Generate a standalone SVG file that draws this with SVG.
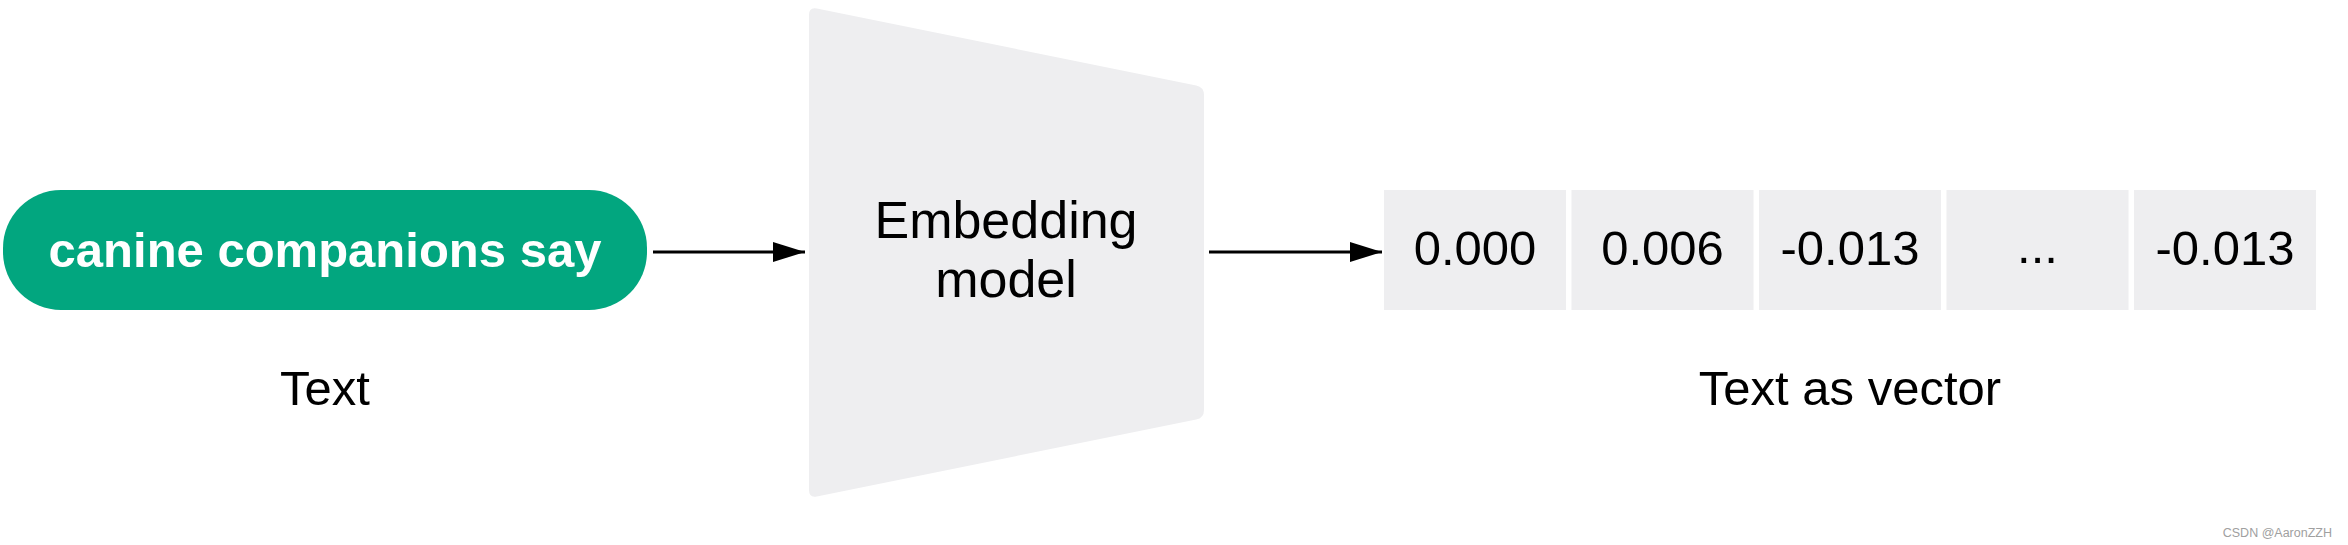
<svg xmlns="http://www.w3.org/2000/svg" width="2348" height="545" viewBox="0 0 2348 545">
  <defs>
    <marker id="arrow" markerWidth="32" markerHeight="20" refX="32" refY="10" orient="auto" markerUnits="userSpaceOnUse">
      <path d="M0,0 L32,10 L0,20 Z" fill="#000"/>
    </marker>
  </defs>
  <style>
    .t { font-family: "Liberation Sans", Arial, sans-serif; fill: #000; text-anchor: middle; }
    .cell { fill: #eeeef0; }
    .num { font-size: 49px; }
    .lbl { font-size: 49px; }
    .conn { stroke: #000; stroke-width: 3; fill: none; marker-end: url(#arrow); }
  </style>
  <rect width="2348" height="545" fill="#fff"/>

  <g id="input-text">
    <rect x="3" y="190" width="644" height="120" rx="58" ry="58" fill="#02a67f"/>
    <text x="325" y="267" class="t" style="fill:#fff;font-size:49px;font-weight:bold">canine companions say</text>
    <text x="325" y="405" class="t lbl">Text</text>
  </g>

  <g id="embedding-model">
    <path d="M809,15 Q809,7 816.8,8.6 L1196.2,85.4 Q1204,87 1204,95 L1204,410 Q1204,418 1196.2,419.6 L816.8,496.4 Q809,498 809,490 Z" fill="#eeeef0"/>
    <text x="1006" y="238" class="t" style="font-size:52px">Embedding</text>
    <text x="1006" y="297" class="t" style="font-size:52px">model</text>
  </g>

  <g id="vector">
    <rect class="cell" x="1384" y="190" width="182" height="120"/>
    <rect class="cell" x="1571.5" y="190" width="182" height="120"/>
    <rect class="cell" x="1759" y="190" width="182" height="120"/>
    <rect class="cell" x="1946.5" y="190" width="182" height="120"/>
    <rect class="cell" x="2134" y="190" width="182" height="120"/>
    <text x="1475" y="265" class="t num">0.000</text>
    <text x="1662.5" y="265" class="t num">0.006</text>
    <text x="1850" y="265" class="t num">-0.013</text>
    <text x="2037.5" y="263" class="t num">...</text>
    <text x="2225" y="265" class="t num">-0.013</text>
    <text x="1850" y="405" class="t lbl">Text as vector</text>
  </g>

  <g id="connectors">
    <line class="conn" x1="653" y1="252" x2="805" y2="252"/>
    <line class="conn" x1="1209" y1="252" x2="1382" y2="252"/>
  </g>

  <text x="2332" y="537" style="font-family:'Liberation Sans',Arial,sans-serif;font-size:12.5px;fill:#a0a0a0;text-anchor:end">CSDN @AaronZZH</text>
</svg>
